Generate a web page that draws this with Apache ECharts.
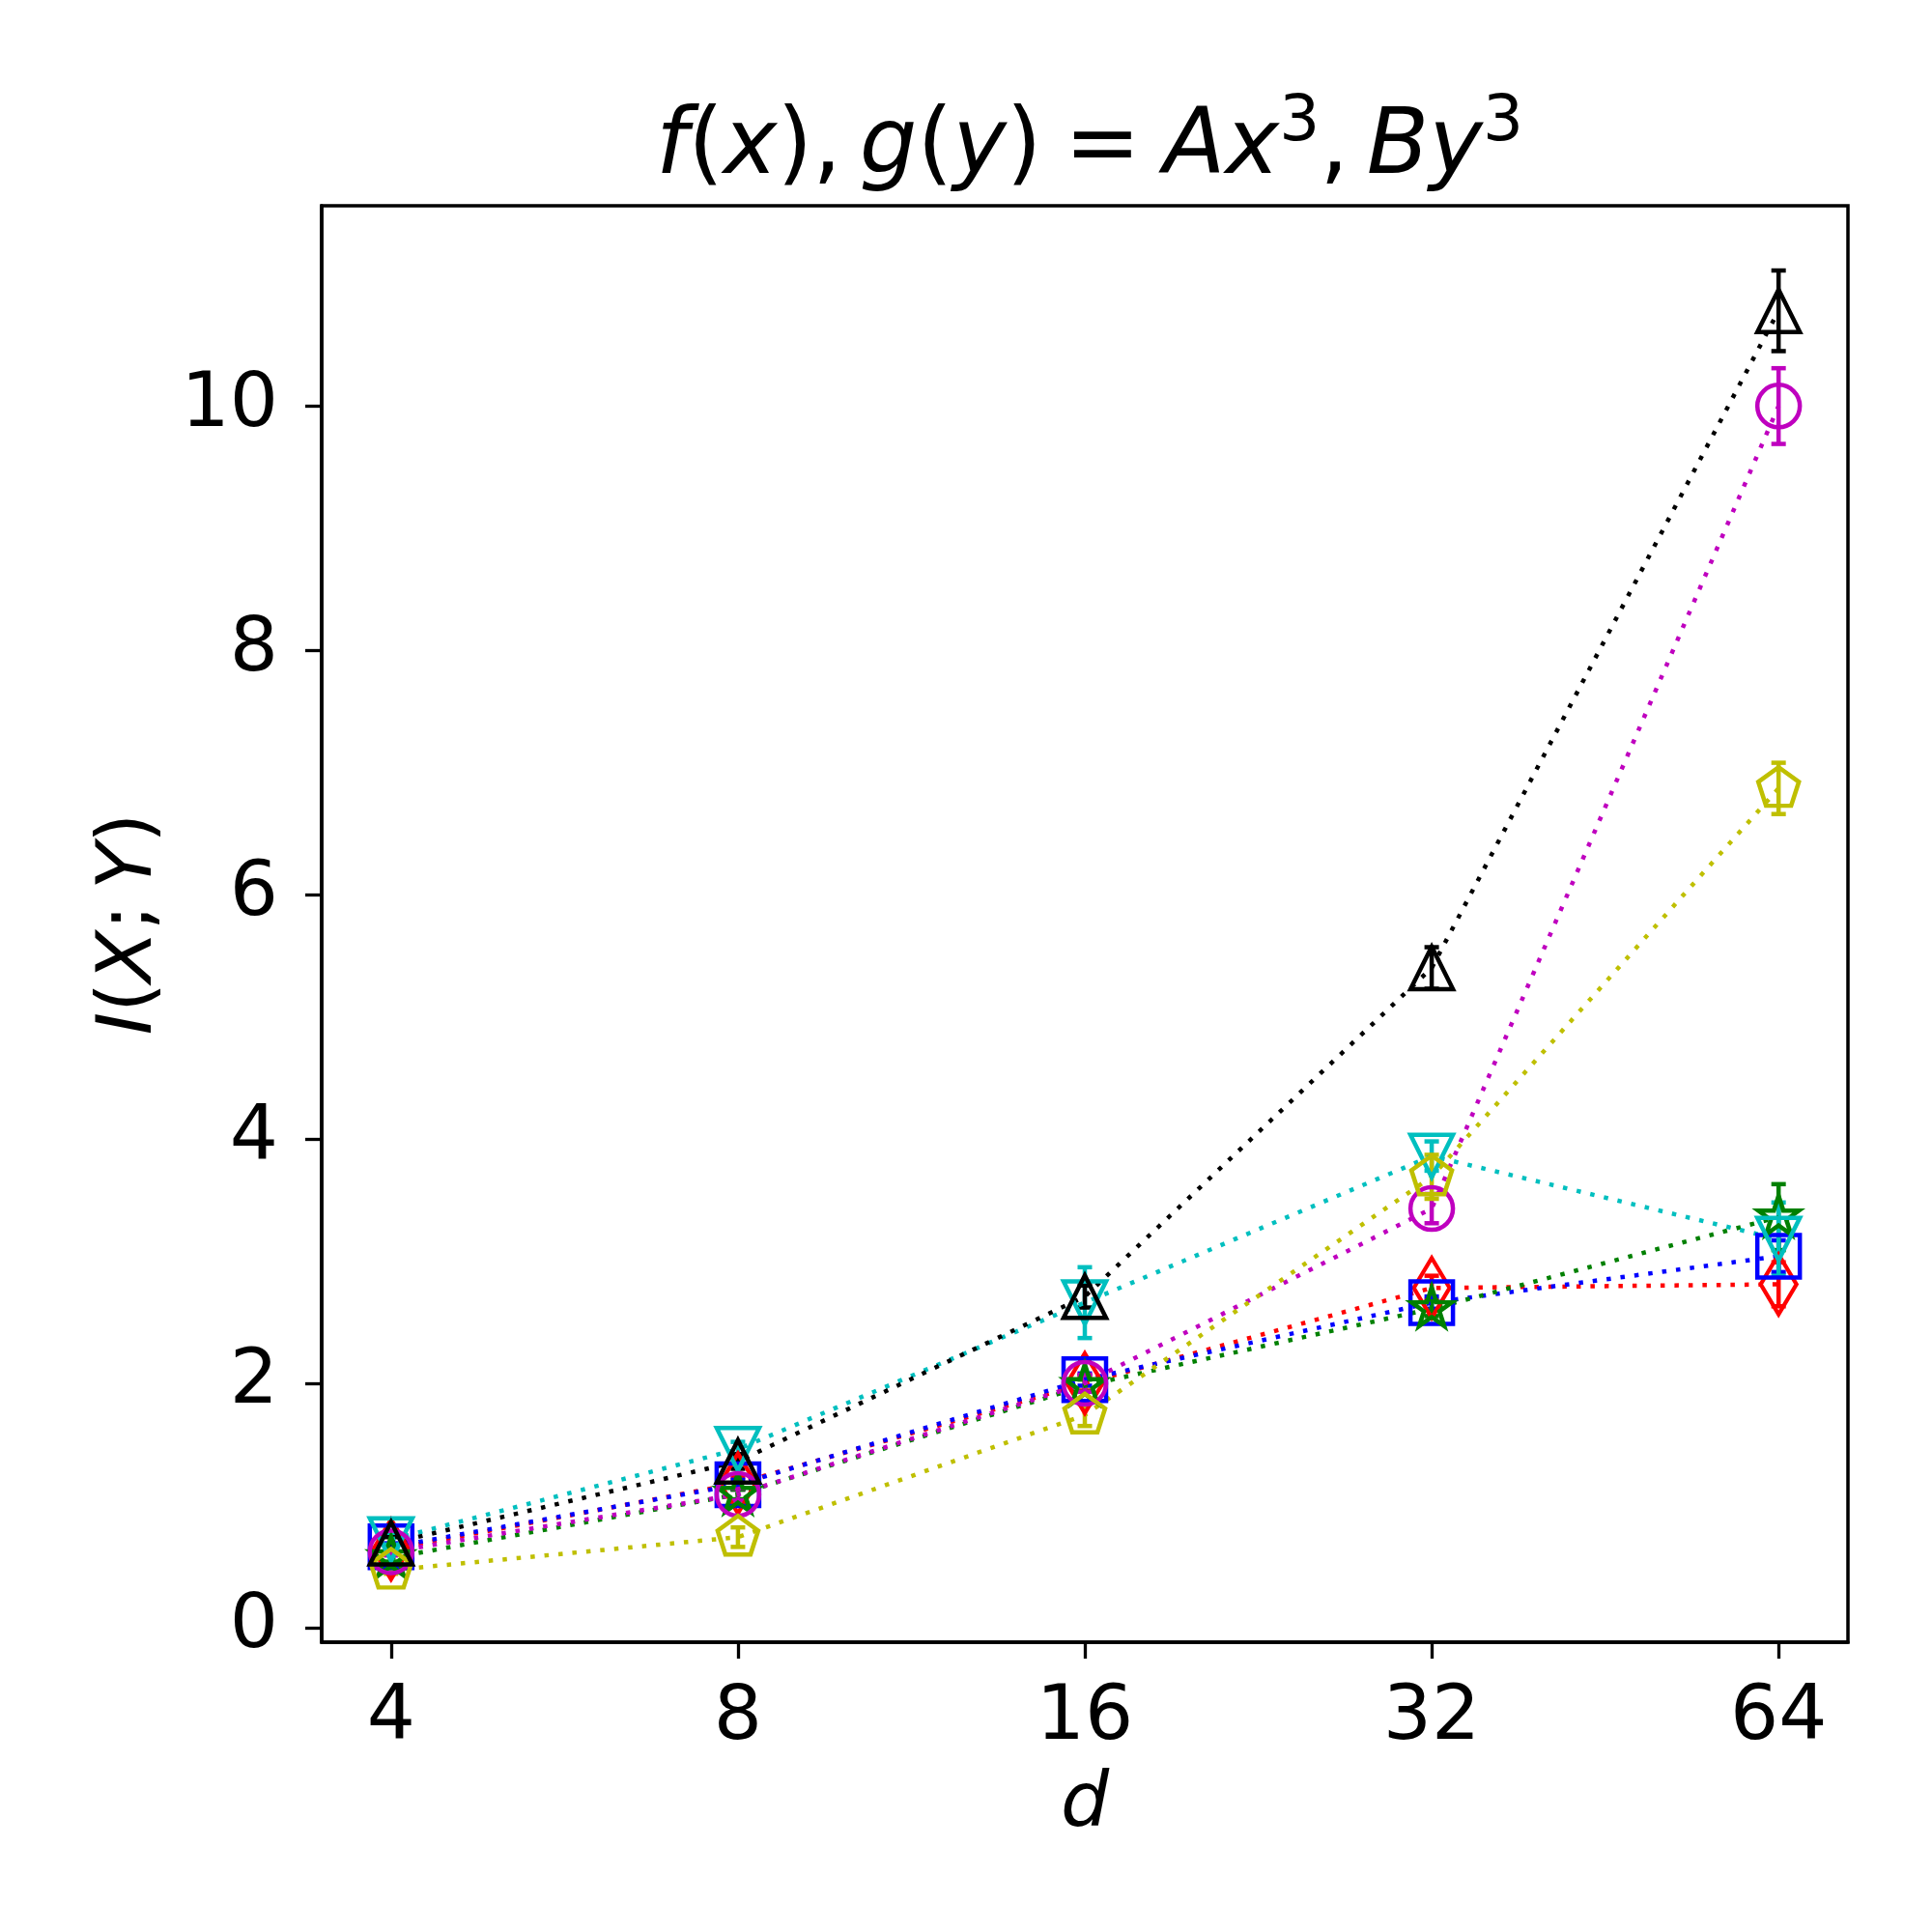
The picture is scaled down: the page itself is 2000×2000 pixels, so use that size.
<!DOCTYPE html>
<html>
<head>
<meta charset="utf-8">
<script src="https://cdn.jsdelivr.net/npm/echarts@6.0.0/dist/echarts.min.js"></script>
<style>
html, body { margin: 0; padding: 0; background: #fff; }
#chart { width: 2000px; height: 2000px; }
</style>
</head>
<body>
<div id="chart"></div>
<script>
// dimension d (x axis, log2 spaced)
const dims = [4, 8, 16, 32, 64];
const yTicks = [0, 2, 4, 6, 8, 10];

// mean estimates and error half-widths, one pair per curve
const redMean = [0.64, 1.18, 2.00, 2.78, 2.81];
const redErr = [0.04, 0.05, 0.06, 0.10, 0.18];
const blueMean = [0.66, 1.17, 2.03, 2.66, 3.04];
const blueErr = [0.03, 0.04, 0.05, 0.05, 0.13];
const greenMean = [0.57, 1.09, 1.98, 2.61, 3.36];
const greenErr = [0.03, 0.04, 0.05, 0.06, 0.27];
const cyanMean = [0.72, 1.46, 2.66, 3.86, 3.18];
const cyanErr = [0.04, 0.06, 0.29, 0.12, 0.30];
const magentaMean = [0.62, 1.09, 2.00, 3.43, 10.00];
const magentaErr = [0.03, 0.05, 0.07, 0.12, 0.31];
const yellowMean = [0.47, 0.74, 1.74, 3.69, 6.87];
const yellowErr = [0.03, 0.08, 0.09, 0.18, 0.21];
const blackMean = [0.69, 1.36, 2.71, 5.40, 10.78];
const blackErr = [0.05, 0.06, 0.09, 0.17, 0.33];

const FONT = 'DejaVu Sans';
const LW = 4.5;

// matplotlib-like marker shapes
const TRI_UP = 'path://M0,-1000L1000,1000L-1000,1000Z';
const TRI_DOWN = 'path://M0,1000L1000,-1000L-1000,-1000Z';
const THIN_DIAMOND = 'path://M0,-1000L600,0L0,1000L-600,0Z';
const PENTAGON = 'path://M0,-1000L951,-309L588,809L-588,809L-951,-309Z';
const STAR = 'path://M0,-1000L224,-309L951,-309L363,118L588,809L0,382L-588,809L-363,118L-951,-309L-224,-309Z';

const curves = [
    { mean: redMean, err: redErr, color: '#ff0000', symbol: THIN_DIAMOND, size: [37, 62], offset: [0, 0] },
    { mean: blueMean, err: blueErr, color: '#0000ff', symbol: 'rect', size: [44, 44], offset: [0, 0] },
    { mean: greenMean, err: greenErr, color: '#008000', symbol: STAR, size: [42, 40], offset: [0, -2] },
    { mean: cyanMean, err: cyanErr, color: '#00bfbf', symbol: TRI_DOWN, size: [44, 44], offset: [0, 0] },
    { mean: magentaMean, err: magentaErr, color: '#bf00bf', symbol: 'circle', size: [44, 44], offset: [0, 0] },
    { mean: yellowMean, err: yellowErr, color: '#bfbf00', symbol: PENTAGON, size: [42, 40], offset: [0, -2] },
    { mean: blackMean, err: blackErr, color: '#000000', symbol: TRI_UP, size: [44, 44], offset: [0, 0] }
];

const series = [];
curves.forEach((c) => {
    series.push({
        type: 'line',
        data: dims.map((d, i) => [Math.log2(d), c.mean[i]]),
        symbol: c.symbol,
        symbolSize: c.size,
        symbolOffset: c.offset,
        symbolKeepAspect: false,
        lineStyle: { color: c.color, width: LW, type: [LW, 10], cap: 'butt' },
        itemStyle: { color: 'none', borderColor: c.color, borderWidth: LW },
        emphasis: { disabled: true },
        z: 2
    });
    series.push({
        type: 'custom',
        data: dims.map((d, i) => [Math.log2(d), c.mean[i] - c.err[i], c.mean[i] + c.err[i]]),
        encode: { x: 0, y: [1, 2] },
        renderItem: (params, api) => {
            const lo = api.coord([api.value(0), api.value(1)]);
            const hi = api.coord([api.value(0), api.value(2)]);
            const cap = 7.5;
            const st = { stroke: c.color, lineWidth: 4.5 };
            return {
                type: 'group',
                children: [
                    { type: 'line', shape: { x1: lo[0], y1: lo[1], x2: hi[0], y2: hi[1] }, style: st },
                    { type: 'line', shape: { x1: lo[0] - cap, y1: lo[1], x2: lo[0] + cap, y2: lo[1] }, style: st },
                    { type: 'line', shape: { x1: hi[0] - cap, y1: hi[1], x2: hi[0] + cap, y2: hi[1] }, style: st }
                ]
            };
        },
        z: 2
    });
});

const it = { fontFamily: FONT, fontStyle: 'italic', fontWeight: 'normal', color: '#000' };
const up = { fontFamily: FONT, fontStyle: 'normal', fontWeight: 'normal', color: '#000' };

const option = {
    animation: false,
    backgroundColor: '#fff',
    title: {
        text: '{it|f}{n|(}{it|x}{n|),\u2009}{it|g}{n|(}{it|y}{n|)\u2005=\u2005}{it|Ax}{sup|3}{n|,\u2009}{it|By}{sup|3}',
        left: 1123,
        top: 90,
        textAlign: 'center',
        textStyle: {
            fontWeight: 'normal',
            rich: {
                it: Object.assign({ fontSize: 94, lineHeight: 120 }, it),
                n: Object.assign({ fontSize: 94, lineHeight: 120 }, up),
                sup: Object.assign({ fontSize: 66, lineHeight: 50, verticalAlign: 'top' }, up)
            }
        }
    },
    grid: {
        left: 333,
        right: 87,
        top: 213,
        bottom: 300,
        containLabel: false,
        outerBoundsMode: 'none',
        show: true,
        borderColor: '#000',
        borderWidth: 3.5
    },
    xAxis: {
        type: 'value',
        min: 1.8,
        max: 6.2,
        axisLine: { show: true, onZero: false, lineStyle: { color: '#000', width: 3.5 } },
        axisTick: { show: true, length: 17, customValues: dims.map((d) => Math.log2(d)), lineStyle: { color: '#000', width: 3.3 } },
        axisLabel: {
            customValues: dims.map((d) => Math.log2(d)),
            formatter: (v) => String(Math.round(Math.pow(2, v))),
            fontFamily: FONT,
            fontSize: 79,
            color: '#000',
            margin: 40
        },
        splitLine: { show: false },
        name: '{it|d}',
        nameLocation: 'middle',
        nameGap: 130,
        nameTextStyle: { rich: { it: Object.assign({ fontSize: 79 }, it) } }
    },
    yAxis: {
        type: 'value',
        min: -0.12,
        max: 11.64,
        axisLine: { show: true, onZero: false, lineStyle: { color: '#000', width: 3.5 } },
        axisTick: { show: true, length: 17, customValues: yTicks, lineStyle: { color: '#000', width: 3.3 } },
        axisLabel: {
            customValues: yTicks,
            fontFamily: FONT,
            fontSize: 79,
            color: '#000',
            margin: 45
        },
        splitLine: { show: false },
        name: '{it|I}{n|(}{it|X}{n|;\u2009}{it|Y}{n|)}',
        nameLocation: 'middle',
        nameGap: 158,
        nameRotate: 90,
        nameTextStyle: {
            rich: {
                it: Object.assign({ fontSize: 79 }, it),
                n: Object.assign({ fontSize: 79 }, up)
            }
        }
    },
    series: series
};

const chart = echarts.init(document.getElementById('chart'), null, { renderer: 'canvas' });
chart.setOption(option);
</script>
</body>
</html>
